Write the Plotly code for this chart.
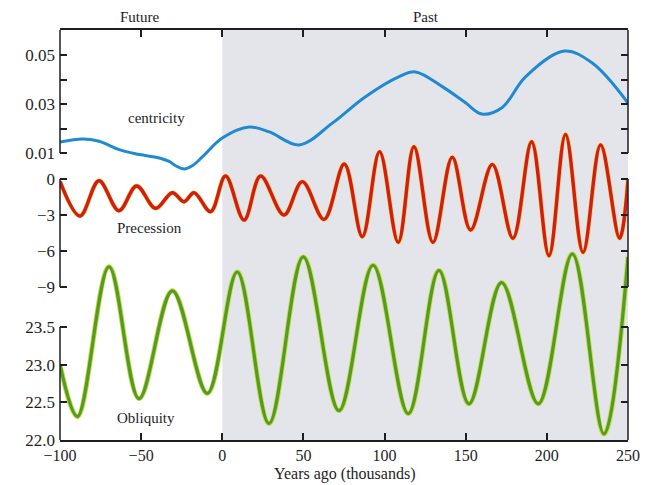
import plotly.graph_objects as go

# ---- data ----
ecc_x = [-100, -86, -76, -63.5, -53.6, -38.8, -32.7, -28.7, -23.4, -18.5, -12.3, 0, 16.6, 29, 47.4,
         67.8, 88, 109, 119, 135.6, 149.7, 160, 172.5, 186.7, 210.7, 228, 250]
ecc_y = [0.0145, 0.0157, 0.0148, 0.0114, 0.0097, 0.0080, 0.0066, 0.0048, 0.0035, 0.0048, 0.0084,
         0.0161, 0.0206, 0.0186, 0.0133, 0.0222, 0.0329, 0.0412, 0.0431, 0.0371, 0.0306,
         0.0259, 0.0286, 0.0410, 0.0516, 0.0467, 0.0304]

prec_x = [-100, -87.7, -76.0, -63.7, -52.8, -41.1, -30.8, -23.6, -17.4, -7.2, 2.0, 13.4, 23.6, 38.0,
          49.3, 62.7, 75.2, 86.3, 96.9, 108.4, 118.1, 129.8, 141.7, 153.0, 166.4, 179.1, 190.6,
          201.3, 211.5, 222.3, 233.1, 244.8, 250]
prec_y = [-0.2, -3.08, -0.14, -2.64, -0.58, -2.44, -1.14, -1.89, -1.14, -2.72, 0.25, -3.42, 0.25,
          -3.0, -0.22, -3.36, 1.25, -4.81, 2.28, -5.28, 2.69, -5.28, 1.81, -4.25, 1.22, -4.94,
          3.11, -6.39, 3.72, -6.11, 2.83, -4.94, -0.1]

obl_x = [-100, -89.3, -69.8, -51.3, -30.8, -9.2, 9.2, 28.8, 49.9, 71.9, 92.9, 114.6, 133.5, 152.0,
         172.1, 194.7, 215.7, 235.2, 250]
obl_y = [23.0, 22.31, 24.30, 22.55, 23.98, 22.62, 24.23, 22.22, 24.43, 22.39, 24.32, 22.35, 24.25,
         22.48, 24.09, 22.48, 24.47, 22.08, 24.43]

x_ticks = [-100, -50, 0, 50, 100, 150, 200, 250]
x_ticktext = ["\u2212100", "\u221250", "0", "50", "100", "150", "200", "250"]
ecc_ticks = [0.01, 0.02, 0.03, 0.04, 0.05]
ecc_ticktext = ["0.01", "", "0.03", "", "0.05"]
prec_ticks = [0, -3, -6, -9]
prec_ticktext = ["0", "\u22123", "\u22126", "\u22129"]
obl_ticks = [22.0, 22.5, 23.0, 23.5]
obl_ticktext = ["22.0", "22.5", "23.0", "23.5"]

FONT = "Liberation Serif"
INK = "#1e1e1e"

fig = go.Figure()

fig.add_trace(go.Scatter(x=ecc_x, y=ecc_y, mode="lines", yaxis="y",
                         line=dict(color="#1f8ad2", width=3, shape="spline", smoothing=1.0),
                         hoverinfo="skip"))
fig.add_trace(go.Scatter(x=prec_x, y=prec_y, mode="lines", yaxis="y2",
                         line=dict(color="#f6cf1a", width=4.4, shape="spline", smoothing=1.0),
                         hoverinfo="skip"))
fig.add_trace(go.Scatter(x=prec_x, y=prec_y, mode="lines", yaxis="y2",
                         line=dict(color="#d01c1c", width=3.4, shape="spline", smoothing=1.0),
                         hoverinfo="skip"))
fig.add_trace(go.Scatter(x=obl_x, y=obl_y, mode="lines", yaxis="y3",
                         line=dict(color="#c2dc40", width=5, shape="spline", smoothing=1.0),
                         hoverinfo="skip"))
fig.add_trace(go.Scatter(x=obl_x, y=obl_y, mode="lines", yaxis="y3",
                         line=dict(color="#559a24", width=3.2, shape="spline", smoothing=1.0),
                         hoverinfo="skip"))

common_y = dict(showgrid=False, zeroline=False, showline=False, ticks="inside", ticklen=7,
                tickwidth=1.5, tickcolor=INK, mirror="ticks", automargin=False,
                ticklabelstandoff=4,
                tickfont=dict(family=FONT, size=17, color=INK))

shapes = [
    dict(type="rect", xref="x", yref="paper", x0=0, x1=250, y0=0, y1=1,
         fillcolor="#e4e4eb", line=dict(width=0), layer="below"),
    # axis bracket segments (left and right)
    dict(type="line", xref="paper", yref="y", x0=0, x1=0, y0=0.01, y1=0.0602,
         line=dict(color=INK, width=1.5)),
    dict(type="line", xref="paper", yref="y", x0=1, x1=1, y0=0.01, y1=0.0602,
         line=dict(color=INK, width=1.5)),
    dict(type="line", xref="paper", yref="y2", x0=0, x1=0, y0=0, y1=-9,
         line=dict(color=INK, width=1.5)),
    dict(type="line", xref="paper", yref="y2", x0=1, x1=1, y0=0, y1=-9,
         line=dict(color=INK, width=1.5)),
    dict(type="line", xref="paper", yref="y3", x0=0, x1=0, y0=22.0, y1=23.5,
         line=dict(color=INK, width=1.5)),
    dict(type="line", xref="paper", yref="y3", x0=1, x1=1, y0=22.0, y1=23.5,
         line=dict(color=INK, width=1.5)),
]

annotations = [
    dict(text="Future", xref="x", yref="paper", x=-51, y=1, yanchor="middle", yshift=13,
         showarrow=False, font=dict(family=FONT, size=15, color=INK)),
    dict(text="Past", xref="x", yref="paper", x=125.5, y=1, yanchor="middle", yshift=13,
         showarrow=False, font=dict(family=FONT, size=15, color=INK)),
    dict(text="Years ago (thousands)", xref="paper", yref="paper", x=0.5, y=0,
         yanchor="middle", yshift=-34, showarrow=False,
         font=dict(family=FONT, size=16, color=INK)),
    dict(text="centricity", xref="x", yref="y", x=-40.7, y=0.0243, showarrow=False,
         font=dict(family=FONT, size=15, color=INK)),
    dict(text="Precession", xref="x", yref="y2", x=-45, y=-4.08, showarrow=False,
         font=dict(family=FONT, size=15, color=INK)),
    dict(text="Obliquity", xref="x", yref="y3", x=-46.8, y=22.29, showarrow=False,
         font=dict(family=FONT, size=15, color=INK)),
]

# The page body keeps the browser's 8 px margin, so the figure is sized to fit the window.
fig.update_layout(
    width=652, height=477,
    margin=dict(l=52, r=32, t=22, b=45, autoexpand=False),
    paper_bgcolor="white", plot_bgcolor="white",
    showlegend=False,
    font=dict(family=FONT, color=INK),
    xaxis=dict(range=[-100, 250], tickvals=x_ticks, ticktext=x_ticktext,
               showgrid=False, zeroline=False, showline=True, linecolor=INK, linewidth=1.5,
               mirror="ticks", ticks="inside", ticklen=7, tickwidth=1.5, tickcolor=INK,
               automargin=False,
               tickfont=dict(family=FONT, size=16, color=INK)),
    yaxis=dict(range=[-0.1071, 0.0602], tickvals=ecc_ticks, ticktext=ecc_ticktext, **common_y),
    yaxis2=dict(range=[-21.75, 12.42], tickvals=prec_ticks, ticktext=prec_ticktext,
                overlaying="y", side="left", **common_y),
    yaxis3=dict(range=[22.0, 27.443], tickvals=obl_ticks, ticktext=obl_ticktext,
                overlaying="y", side="left", **common_y),
    shapes=shapes,
    annotations=annotations,
)

fig.write_html("out.html")
